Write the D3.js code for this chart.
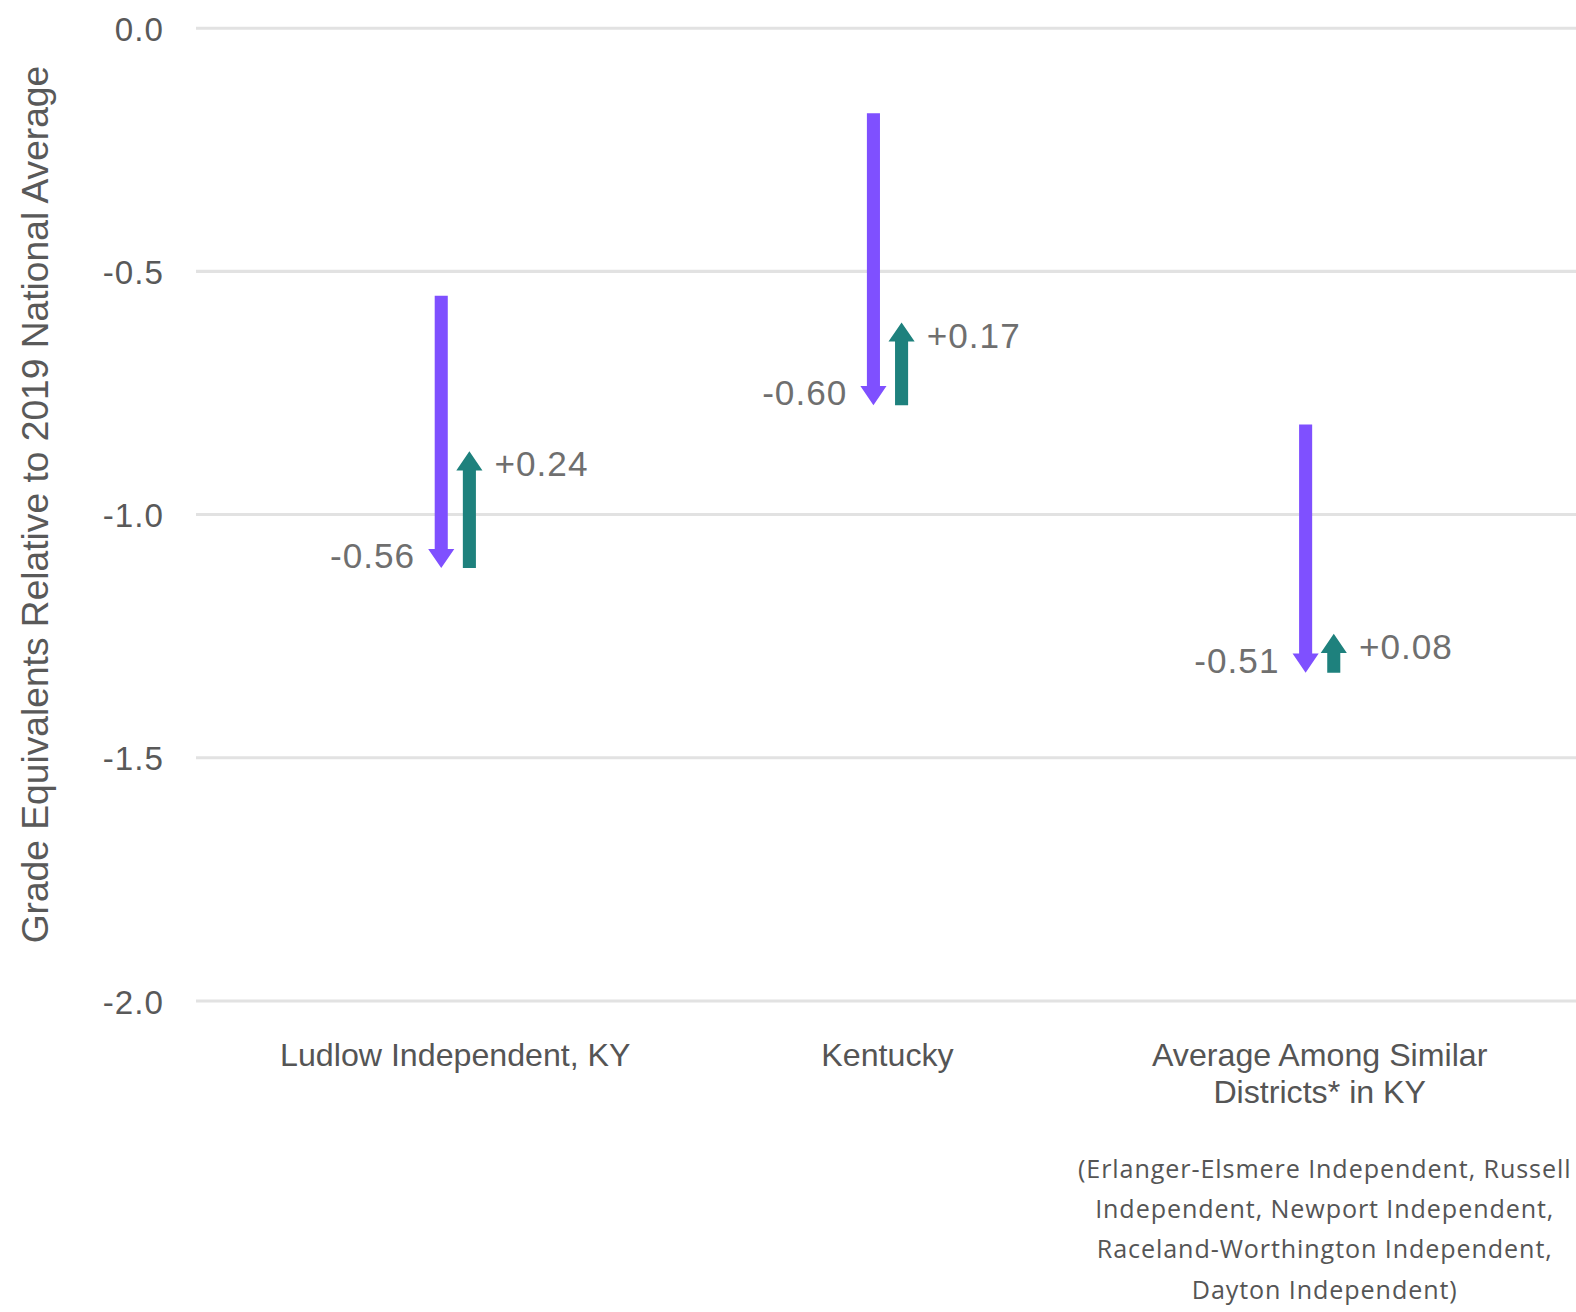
<!DOCTYPE html>
<html>
<head>
<meta charset="utf-8">
<script src="https://cdn.jsdelivr.net/npm/d3@7"></script>
<style>
  html, body { margin: 0; padding: 0; background: #fff; }
  svg { display: block; }
</style>
</head>
<body>
<svg id="chart" width="1576" height="1312"></svg>
<script>
// ---- data ----
const categories = ["Ludlow Independent, KY", "Kentucky", "Average Among Similar Districts* in KY"];
const categoryLines = [["Ludlow Independent, KY"], ["Kentucky"], ["Average Among Similar", "Districts* in KY"]];
const startValues = [-0.55, -0.175, -0.815];   // level before decline
const declineValues = [-0.56, -0.60, -0.51];   // purple arrow (decline)
const recoveryValues = [0.24, 0.17, 0.08];     // teal arrow (recovery)
const yTicks = [0, -0.5, -1.0, -1.5, -2.0];
const yTitle = "Grade Equivalents Relative to 2019 National Average";
const footnoteLines = [
  "(Erlanger-Elsmere Independent, Russell",
  "Independent, Newport Independent,",
  "Raceland-Worthington Independent,",
  "Dayton Independent)"
];

(function () {
const W = 1576, H = 1312;
const k = 1576 / 1568;               // layout designed on a 1568-wide grid
const svg = d3.select("#chart");
const root = svg.append("g").attr("transform", `scale(${k})`);

const mLeft = 195, mRight = 1571, mTop = 28, mBottom = 996;
const purple = "#7f50ff", teal = "#1e817d";
const fontMain = "'Liberation Sans', Arial, Helvetica, sans-serif";

const y = d3.scaleLinear().domain([-2, 0]).range([mBottom, mTop]);
const x = d3.scalePoint().domain(categories).range([mLeft, mRight]).padding(0.6);

// gridlines
root.append("g").selectAll("line").data(yTicks).join("line")
  .attr("x1", mLeft).attr("x2", W / k)
  .attr("y1", d => y(d)).attr("y2", d => y(d))
  .attr("stroke", "#e2e2e2").attr("stroke-width", 3);

// y-axis tick labels
const yAxis = d3.axisLeft(y).tickValues(yTicks)
  .tickFormat(d => d3.format(".1f")(d).replace("−", "-"))
  .tickSize(0).tickPadding(0);
const yg = root.append("g").attr("transform", `translate(163,0)`).call(yAxis);
yg.select(".domain").remove();
yg.selectAll("text")
  .attr("font-family", fontMain).attr("font-size", 33)
  .attr("letter-spacing", 1)
  .attr("fill", "#595959").attr("dy", "0.36em");

// y title
root.append("text")
  .attr("transform", `translate(48,502) rotate(-90)`)
  .attr("text-anchor", "middle")
  .attr("font-family", fontMain).attr("font-size", 37)
  .attr("fill", "#595959")
  .text(yTitle);

// arrows
const shaftW = 13, headW = 26, headH = 19, offset = 14;

function arrowPath(cx, y0, y1) {
  const dir = y1 > y0 ? 1 : -1;
  const hb = y1 - dir * headH;
  return `M${cx - shaftW / 2},${y0} L${cx + shaftW / 2},${y0} L${cx + shaftW / 2},${hb} L${cx + headW / 2},${hb} L${cx},${y1} L${cx - headW / 2},${hb} L${cx - shaftW / 2},${hb} Z`;
}

const rows = categories.map((c, i) => ({
  c, start: startValues[i], dec: declineValues[i], rec: recoveryValues[i],
  low: startValues[i] + declineValues[i],
  end: startValues[i] + declineValues[i] + recoveryValues[i]
}));

const g = root.append("g");
g.selectAll("path.dec").data(rows).join("path").attr("class", "dec")
  .attr("d", d => arrowPath(x(d.c) - offset, y(d.start), y(d.low)))
  .attr("fill", purple);
g.selectAll("path.rec").data(rows).join("path").attr("class", "rec")
  .attr("d", d => arrowPath(x(d.c) + offset, y(d.low), y(d.end)))
  .attr("fill", teal);

// value labels
g.selectAll("text.dec").data(rows).join("text").attr("class", "dec")
  .attr("x", d => x(d.c) - offset - 26)
  .attr("y", d => y(d.low))
  .attr("text-anchor", "end")
  .attr("font-family", fontMain).attr("font-size", 35)
  .attr("letter-spacing", 1)
  .attr("fill", "#6f6f6f")
  .text(d => d3.format(".2f")(d.dec).replace("−", "-"));
g.selectAll("text.rec").data(rows).join("text").attr("class", "rec")
  .attr("x", d => x(d.c) + offset + 25)
  .attr("y", d => y(d.end) + 25)
  .attr("text-anchor", "start")
  .attr("font-family", fontMain).attr("font-size", 35)
  .attr("letter-spacing", 1)
  .attr("fill", "#6f6f6f")
  .text(d => "+" + d3.format(".2f")(d.rec));

// category labels
const cl = root.append("g");
categories.forEach((c, i) => {
  const t = cl.append("text")
    .attr("x", x(c)).attr("y", 1061)
    .attr("text-anchor", "middle")
    .attr("font-family", fontMain).attr("font-size", 32)
    .attr("fill", "#555");
  categoryLines[i].forEach((ln, j) => {
    t.append("tspan").attr("x", x(c)).attr("dy", j === 0 ? 0 : 36).text(ln);
  });
});

// footnote
const fn = root.append("text")
  .attr("text-anchor", "middle")
  .attr("font-family", "'Open Sans', 'Noto Sans', sans-serif").attr("font-size", 25)
  .attr("letter-spacing", 0.9)
  .attr("fill", "#555");
footnoteLines.forEach((ln, j) => {
  fn.append("tspan").attr("x", 1318).attr("y", 1172 + j * 40).text(ln);
});
})();
</script>
</body>
</html>
